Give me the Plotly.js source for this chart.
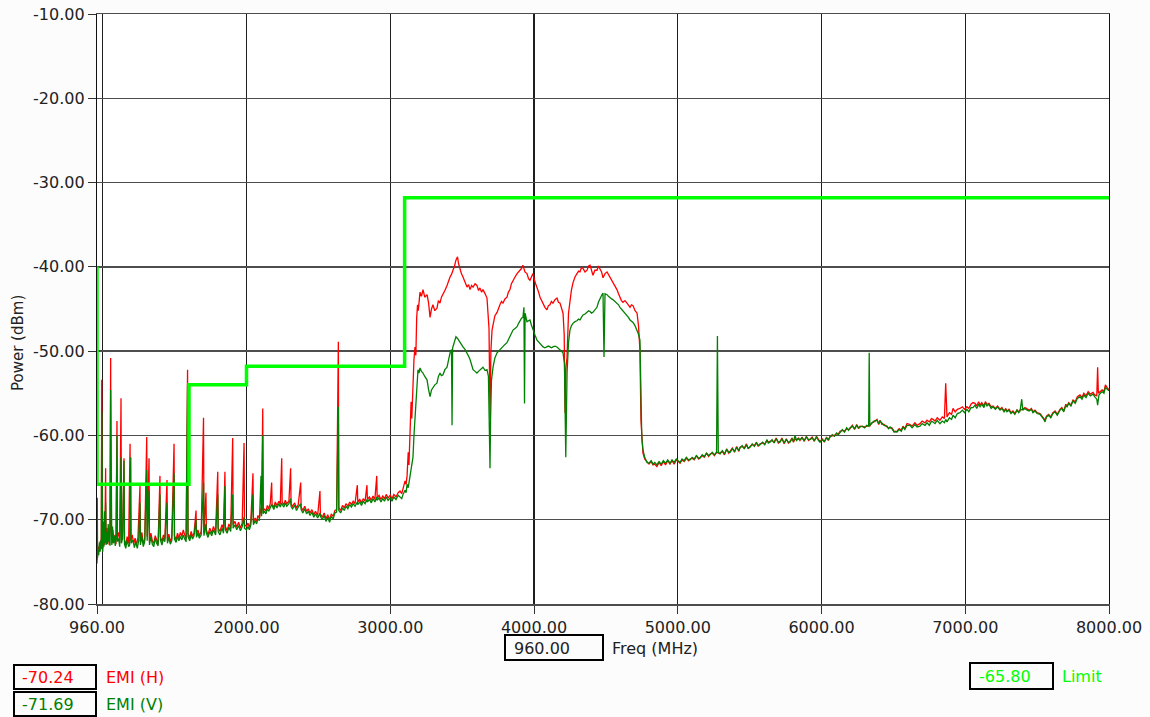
<!DOCTYPE html>
<html><head><meta charset="utf-8">
<script src="https://cdn.plot.ly/plotly-3.0.1.min.js"></script>
<style>html,body{margin:0;padding:0;background:#fcfcfc}#chart{width:1150px;height:717px}</style>
</head><body><div id="chart"></div>
<script>
// ---- tick labels / grid ----
const xTickVals = [960, 2000, 3000, 4000, 5000, 6000, 7000, 8000];
const xTickText = ['960.00', '2000.00', '3000.00', '4000.00', '5000.00', '6000.00', '7000.00', '8000.00'];
const xGridVals = [1000];
const yTickVals = [-80, -70, -60, -50, -40, -30, -20, -10];
const yTickText = ['-80.00', '-70.00', '-60.00', '-50.00', '-40.00', '-30.00', '-20.00', '-10.00'];

// ---- limit line (MHz, dBm) ----
const limitFreq = [960, 960, 1600, 1600, 2000, 2000, 3100, 3100, 8000];
const limitPow = [-40, -65.8, -65.8, -54, -54, -51.8, -51.8, -31.8, -31.8];

// ---- EMI (H) : [MHz, dBm] ----
const emiH_low = [[960,-74.8],[963,-72.5],[966,-74],[970,-73.2],[975,-73.8],[980,-72.6],[985,-73.5],[990,-72],[993,-53.4],[996,-72.5],[1000,-73.4],[1005,-71.5],[1010,-73],[1015,-72],[1020,-63.9],[1023,-72.8],[1030,-71],[1035,-72.6],[1040,-71.8],[1045,-73],[1050,-70.5],[1055,-50.8],[1058,-71.5],[1065,-72.8],[1070,-71.2],[1078,-72.5],[1085,-71.8],[1092,-72.9],[1099,-58.3],[1102,-72],[1110,-71.5],[1118,-72.7],[1127,-55.6],[1130,-72.2],[1138,-71.6],[1148,-62.7],[1151,-72.4],[1160,-73],[1170,-72],[1180,-72.8],[1190,-61],[1193,-72.5],[1205,-71.8],[1215,-72.9],[1225,-72.2],[1235,-73],[1245,-72.1],[1259,-66],[1262,-72.6],[1272,-71.5],[1282,-72.8],[1292,-72.3],[1306,-60.2],[1309,-72],[1322,-62.7],[1325,-72.6],[1335,-71.6],[1345,-72.5],[1355,-72.8],[1365,-71.9],[1375,-72.4],[1385,-72.9],[1398,-64.8],[1401,-72],[1412,-72.6],[1422,-71.8],[1432,-72.3],[1447,-65.3],[1450,-72.5],[1460,-71.7],[1470,-72.6],[1480,-72.2],[1496,-61],[1499,-71.9],[1510,-72.4],[1520,-71.6],[1530,-72.2],[1540,-71.5],[1550,-72],[1560,-71.2],[1570,-71.8],[1580,-72.3],[1590,-52.2],[1593,-71.6],[1605,-72.2],[1615,-71.4],[1625,-72],[1635,-71.6],[1649,-68.9],[1652,-71.8],[1662,-71.2],[1672,-71.9],[1685,-71.4],[1701,-57.9],[1704,-71.6],[1718,-66.8],[1721,-71.2],[1732,-71.8],[1745,-71],[1758,-71.6],[1770,-70.8],[1785,-71.5],[1800,-64.3],[1803,-71],[1815,-71.4],[1830,-70.6],[1840,-71.2],[1850,-64.3],[1853,-70.8],[1865,-71.3],[1878,-70.5],[1890,-71],[1904,-60.3],[1907,-70.6],[1920,-70.2],[1932,-70.9],[1945,-70.3],[1958,-71],[1970,-70.4],[1983,-60.9],[1986,-70.6],[2000,-70.8]];
const emiH_mid = [[2010,-70.4],[2020,-70.9],[2030,-70.2],[2045,-64.5],[2048,-70.3],[2060,-69.8],[2070,-70.2],[2080,-69.5],[2090,-69.8],[2101,-68.6],[2105,-69.2],[2113,-56.8],[2116,-69],[2125,-68.7],[2135,-69],[2145,-68.3],[2155,-68.7],[2165,-68.1],[2175,-65.6],[2178,-68.2],[2190,-68.5],[2200,-67.9],[2212,-68.3],[2225,-67.8],[2235,-68.2],[2245,-62.7],[2248,-67.9],[2260,-68.2],[2270,-67.7],[2280,-68.1],[2295,-67.8],[2307,-63.9],[2310,-68.1],[2320,-68.4],[2335,-68],[2348,-68.6],[2360,-68.2],[2377,-65.6],[2380,-68.5],[2392,-68.9],[2405,-68.4],[2418,-69],[2430,-68.7],[2442,-69.2],[2455,-68.8],[2468,-69.4],[2480,-69],[2495,-69.5],[2511,-66.6],[2514,-69.3],[2527,-69.7],[2540,-69.2],[2553,-69.9],[2565,-69.4],[2578,-70],[2590,-69.3],[2603,-69.6],[2615,-68.9],[2627,-68.8],[2639,-48.9],[2642,-68.6],[2655,-68.9],[2668,-68.3],[2680,-68.6],[2692,-68.1],[2705,-68.4],[2718,-67.9],[2730,-68.2],[2742,-67.8],[2755,-68.1],[2771,-65.9],[2774,-67.9],[2788,-67.6],[2800,-68],[2812,-67.5],[2825,-67.8],[2838,-65.9],[2841,-67.6],[2855,-67.3],[2868,-67.7],[2880,-67.2],[2893,-67.6],[2906,-64.8],[2909,-67.4],[2922,-67.1],[2935,-67.6],[2948,-67.2],[2960,-67.5],[2972,-67],[2985,-67.4],[3000,-67.1],[3012,-67.5],[3025,-67],[3040,-67.3],[3055,-66.8],[3068,-66.6],[3080,-66.9],[3089,-66.2],[3103,-65.4],[3110,-65.8],[3117,-64.8],[3125,-62],[3130,-63.5],[3137,-60],[3145,-56],[3150,-58],[3158,-53.4],[3165,-51],[3172,-49.5],[3178,-50.5],[3184,-46],[3190,-44.5],[3195,-45.2],[3200,-43.8],[3207,-43]];
const emiH_band = [[3217,-43.5],[3228,-42.7],[3240,-43.6],[3256,-43.3],[3266,-44.2],[3277,-46],[3287,-45],[3297,-44.5],[3310,-45.2],[3325,-44.9],[3335,-44],[3346,-44.3],[3356,-43.6],[3367,-43.3],[3380,-42.8],[3395,-42.2],[3405,-41.6],[3416,-41.2],[3426,-40.9],[3437,-40.4],[3447,-39.9],[3457,-39.2],[3468,-38.8],[3475,-39.6],[3485,-40.4],[3495,-40.8],[3506,-41.2],[3520,-41.8],[3534,-42.4],[3545,-42.1],[3555,-42.7],[3566,-42.2],[3576,-42.4],[3590,-42],[3603,-42.2],[3614,-42.8],[3624,-42.5],[3635,-43],[3645,-42.7],[3660,-43.2],[3673,-43.7],[3680,-45.5],[3687,-47.3],[3694,-58],[3700,-50],[3708,-47.5],[3715,-46.7],[3728,-45.8],[3743,-45.4],[3753,-44.8],[3763,-44.5],[3774,-44.1],[3784,-44.3],[3798,-43.8],[3812,-43.6],[3822,-43],[3833,-42.7],[3843,-42],[3854,-41.6],[3868,-41.2],[3882,-40.8],[3893,-40.6],[3903,-40.4],[3913,-40.2],[3923,-39.8],[3937,-40.6],[3951,-40.8],[3962,-41.4],[3972,-41.6],[3982,-41.1],[3993,-40.8],[4007,-41.8],[4021,-42.4],[4032,-43],[4042,-43.6],[4052,-44],[4063,-44.5],[4076,-44.8],[4090,-45.1],[4100,-44.6],[4111,-44.5],[4121,-44.1],[4132,-44.3],[4146,-43.9],[4160,-43.7],[4170,-44.2],[4181,-44.3],[4192,-44.8],[4202,-45.5],[4210,-48],[4216,-57.3],[4222,-52],[4230,-50.7],[4240,-45.5],[4250,-43.9],[4260,-42.8],[4271,-41.9],[4285,-41.2],[4299,-40.8],[4310,-40.5],[4320,-40.6],[4330,-40.1],[4341,-40.2],[4355,-40.6],[4369,-40.4],[4380,-39.9],[4390,-39.8],[4400,-40.5],[4410,-41],[4424,-40.4],[4438,-40.4],[4448,-39.9],[4459,-40.2],[4470,-40.6],[4480,-41.3],[4494,-40.8],[4508,-40.6],[4518,-40.9],[4529,-41.2],[4540,-41.5],[4550,-41.9],[4563,-42.3],[4577,-42.7],[4588,-43.2],[4598,-43.6],[4608,-44],[4619,-44.2],[4633,-44],[4647,-44.3],[4657,-44.6],[4668,-44.8],[4678,-44.5],[4689,-44.6],[4703,-45.2],[4717,-45.5],[4727,-47],[4737,-49.9],[4744,-58.2],[4750,-60.5],[4758,-62.1],[4770,-62.8],[4786,-63.2],[4800,-63.4],[4815,-63.1],[4828,-63.5]];
const emiH_tail = [[4840,-63.4],[4855,-63.7],[4870,-63.2],[4885,-63.6],[4900,-63.1],[4915,-63.5],[4930,-63],[4946,-63.4],[4960,-63],[4975,-63.4],[4990,-62.9],[5005,-63.2],[5016,-63.3],[5030,-62.9],[5045,-63.1],[5060,-62.7],[5075,-63],[5086,-62.8],[5100,-62.7],[5115,-62.9],[5130,-62.4],[5145,-62.8],[5155,-62.6],[5170,-62.4],[5185,-62.6],[5200,-62.1],[5215,-62.5],[5225,-62.2],[5240,-62.1],[5255,-62.4],[5270,-62],[5282,-62.1],[5294,-62.1],[5310,-61.9],[5325,-62.3],[5340,-61.6],[5355,-62.1],[5364,-61.9],[5380,-61.5],[5395,-62],[5410,-61.3],[5425,-61.9],[5433,-61.4],[5448,-61.3],[5463,-61.5],[5478,-61],[5490,-61.6],[5503,-61.3],[5518,-61.1],[5533,-61.2],[5548,-60.8],[5560,-61.3],[5572,-61],[5590,-60.9],[5605,-61],[5621,-60.6],[5630,-60.8],[5642,-60.7],[5656,-60.6],[5670,-60.8],[5685,-60.3],[5700,-60.9],[5712,-60.7],[5725,-60.3],[5740,-61],[5755,-60.4],[5770,-60.9],[5781,-60.7],[5795,-60.3],[5805,-60.8],[5816,-60.4],[5826,-60.5],[5840,-60.3],[5850,-60.6],[5865,-60.2],[5880,-60.7],[5895,-60.1],[5910,-60.6],[5920,-60.4],[5935,-60.2],[5950,-60.7],[5965,-60.1],[5980,-60.5],[5990,-60.7],[6005,-60.4],[6020,-60.8],[6035,-60.2],[6048,-60.6],[6059,-60.1],[6075,-60],[6090,-60],[6105,-59.8],[6118,-59.8],[6129,-59.5],[6145,-59.4],[6160,-59.5],[6175,-59.2],[6188,-59.3],[6198,-59.2],[6215,-58.8],[6230,-59.3],[6245,-58.7],[6258,-59.2],[6268,-58.9],[6285,-59],[6300,-59],[6315,-58.9],[6328,-58.8],[6336,-58.9],[6350,-58.5],[6365,-58.4],[6386,-58.1],[6398,-58.7],[6407,-58.2],[6420,-58.7],[6435,-58.7],[6456,-59],[6466,-59.1],[6477,-59.1],[6490,-59.1],[6505,-59.5],[6515,-59.6],[6525,-59.5],[6540,-59.2],[6555,-59.4],[6567,-58.9],[6580,-59.2],[6595,-58.6],[6616,-58.7],[6630,-58.9],[6650,-58.5],[6665,-58.8],[6685,-58.6],[6700,-58.3],[6720,-58.5],[6734,-58.2],[6750,-58.4],[6765,-58],[6776,-58.1],[6790,-58.3],[6805,-57.9],[6824,-58.2],[6840,-57.8],[6855,-58],[6864,-53.8],[6868,-57.8],[6873,-57.8],[6890,-57.3],[6905,-57.5],[6915,-56.8],[6930,-57.2],[6945,-56.9],[6963,-56.8],[6980,-56.6],[6995,-56.9],[7012,-56.6],[7025,-56.8],[7040,-56.3],[7054,-56.1],[7068,-56.2],[7080,-56.5],[7093,-56],[7103,-56.4],[7115,-56.1],[7130,-56.5],[7140,-56],[7151,-56.3],[7165,-56.2],[7180,-56.6],[7193,-56.5],[7210,-56.8],[7225,-56.5],[7242,-56.9],[7255,-56.7],[7270,-57.1],[7282,-56.8],[7290,-57.1],[7305,-56.9],[7318,-57.3],[7332,-57.1],[7345,-57.4],[7360,-57],[7372,-57.2],[7381,-57],[7400,-56.9],[7415,-56.7],[7430,-56.9],[7445,-57],[7460,-56.8],[7471,-57.2],[7485,-57],[7500,-57.3],[7520,-57.4],[7535,-57.7],[7547,-58],[7555,-58.2],[7565,-57.7],[7580,-57.5],[7595,-57.8],[7610,-57.3],[7625,-57.1],[7640,-57.5],[7659,-56.9],[7672,-56.7],[7685,-57.1],[7700,-56.3],[7708,-56.5],[7720,-56.1],[7735,-56.4],[7750,-55.8],[7765,-56],[7780,-55.4],[7798,-55.2],[7812,-55.5],[7825,-55],[7840,-55.3],[7855,-54.8],[7870,-55.1],[7889,-54.9],[7900,-55.2],[7915,-55.3],[7921,-51.9],[7926,-55],[7940,-54.8],[7952,-54.6],[7965,-54.8],[7975,-54],[7986,-54.3],[8000,-54.6]];

// ---- EMI (V) : [MHz, dBm] ----
const emiV_low = [[960,-75.2],[962,-67.4],[964,-74.5],[968,-73.6],[972,-74.2],[977,-72.8],[982,-73.8],[987,-72.4],[990,-73.5],[993,-57.2],[996,-73],[1000,-73.8],[1004,-70.2],[1008,-73.2],[1012,-69],[1016,-72.8],[1020,-68],[1023,-73],[1028,-71.5],[1033,-72.9],[1038,-70.5],[1042,-72.6],[1047,-71.8],[1051,-73.1],[1055,-54.6],[1058,-72],[1063,-73],[1068,-70.8],[1074,-72.8],[1080,-71.9],[1087,-73.1],[1093,-72.2],[1099,-60],[1102,-72.6],[1110,-72.2],[1118,-73.2],[1127,-62.6],[1130,-72.8],[1138,-72.2],[1148,-63],[1151,-72.9],[1160,-73.4],[1170,-72.4],[1180,-73.2],[1187,-73],[1195,-62.6],[1198,-72.8],[1210,-72.4],[1220,-73.3],[1230,-72.6],[1240,-73.4],[1250,-72.5],[1259,-68],[1262,-73],[1272,-72],[1282,-73.2],[1292,-72.6],[1306,-64.1],[1309,-72.5],[1322,-66.5],[1325,-73],[1335,-72],[1345,-72.9],[1355,-73.2],[1365,-72.2],[1375,-72.8],[1385,-73.1],[1398,-67],[1401,-72.4],[1412,-73],[1422,-72.2],[1432,-72.6],[1447,-68],[1450,-72.8],[1460,-72.1],[1470,-72.9],[1480,-72.5],[1496,-64.5],[1499,-72.3],[1510,-72.7],[1520,-72],[1530,-72.5],[1540,-72],[1550,-72.4],[1560,-71.8],[1570,-72.3],[1580,-72.6],[1590,-53.9],[1593,-72],[1605,-72.5],[1615,-71.8],[1625,-72.3],[1635,-71.9],[1649,-70],[1652,-72.1],[1662,-71.6],[1672,-72.2],[1685,-71.8],[1701,-65.6],[1704,-71.9],[1718,-70.5],[1721,-71.6],[1732,-72.1],[1745,-71.4],[1758,-71.9],[1770,-71.2],[1785,-71.8],[1800,-67],[1803,-71.4],[1815,-71.8],[1830,-71],[1840,-71.6],[1850,-66],[1853,-71.2],[1865,-71.6],[1878,-70.9],[1890,-71.4],[1904,-67],[1907,-71],[1920,-70.6],[1932,-71.2],[1945,-70.7],[1958,-71.3],[1970,-70.8],[1983,-69.7],[1986,-71],[2000,-71.2]];
const emiV_mid = [[2010,-70.8],[2020,-71.2],[2030,-70.6],[2045,-67],[2048,-70.6],[2060,-70.1],[2070,-70.5],[2080,-69.9],[2090,-70.1],[2101,-64.8],[2105,-69.6],[2113,-60],[2116,-69.3],[2125,-69],[2135,-69.3],[2145,-68.7],[2155,-69],[2165,-68.5],[2175,-68.2],[2190,-68.8],[2200,-68.2],[2212,-68.6],[2225,-68.1],[2235,-68.5],[2245,-68],[2248,-68.2],[2260,-68.5],[2270,-68],[2280,-68.4],[2295,-68.1],[2307,-67.5],[2310,-68.4],[2320,-68.7],[2335,-68.3],[2348,-68.9],[2360,-68.5],[2377,-68.1],[2380,-68.8],[2392,-69.2],[2405,-68.7],[2418,-69.3],[2430,-69],[2442,-69.5],[2455,-69.1],[2468,-69.7],[2480,-69.3],[2495,-69.8],[2511,-69.2],[2514,-69.6],[2527,-70],[2540,-69.5],[2553,-70.2],[2565,-69.7],[2578,-70.3],[2590,-69.6],[2603,-69.9],[2615,-69.2],[2627,-69.1],[2639,-56.6],[2642,-68.9],[2655,-69.2],[2668,-68.6],[2680,-68.9],[2692,-68.4],[2705,-68.7],[2718,-68.2],[2730,-68.5],[2742,-68.1],[2755,-68.4],[2771,-67.9],[2774,-68.2],[2788,-67.9],[2800,-68.3],[2812,-67.8],[2825,-68.1],[2838,-67.6],[2841,-67.9],[2855,-67.6],[2868,-68],[2880,-67.5],[2893,-67.9],[2906,-67.3],[2909,-67.7],[2922,-67.4],[2935,-67.9],[2948,-67.5],[2960,-67.8],[2972,-67.3],[2985,-67.7],[3000,-67.4],[3012,-67.8],[3025,-67.3],[3040,-67.6],[3055,-67.1],[3068,-67.3],[3080,-67.5],[3089,-67],[3103,-66.5],[3110,-66.8],[3117,-65.8],[3125,-66.2],[3137,-64.9],[3145,-63.8],[3158,-62.6],[3165,-60],[3172,-58],[3178,-56],[3184,-53.4],[3193,-52.2],[3200,-52.6],[3207,-52]];
const emiV_band = [[3217,-52.4],[3228,-52.6],[3240,-53],[3256,-53.4],[3266,-54.5],[3277,-55.4],[3287,-54.6],[3297,-54.3],[3310,-54],[3325,-53.8],[3335,-53],[3346,-52.6],[3356,-52.9],[3367,-52.8],[3380,-52.2],[3395,-51.9],[3405,-51],[3416,-50.2],[3426,-49.8],[3430,-58.8],[3434,-49.6],[3447,-48.8],[3457,-48.3],[3468,-48.5],[3475,-48.7],[3485,-49],[3495,-49.3],[3506,-49.5],[3520,-49.8],[3534,-50.2],[3545,-50.6],[3555,-51],[3566,-51.6],[3576,-52.2],[3590,-52.4],[3603,-52.6],[3614,-52.4],[3624,-52.2],[3635,-52],[3645,-51.9],[3660,-52.3],[3673,-52.2],[3683,-53],[3690,-60],[3694,-63.9],[3698,-58],[3704,-53.5],[3715,-51.9],[3728,-50.8],[3743,-50.2],[3753,-50],[3763,-49.9],[3774,-49.6],[3784,-49.5],[3798,-49.2],[3812,-49],[3822,-48.6],[3833,-48.3],[3843,-47.9],[3854,-47.5],[3868,-47.3],[3882,-47.1],[3893,-46.7],[3903,-46.3],[3913,-46.1],[3923,-46],[3930,-44.8],[3934,-56.2],[3938,-45.5],[3951,-46.5],[3962,-46.4],[3972,-46.3],[3982,-46.9],[3993,-47.5],[4007,-48.1],[4021,-48.7],[4032,-48.9],[4042,-49],[4052,-49.3],[4063,-49.5],[4076,-49.6],[4090,-49.5],[4100,-49.4],[4111,-49.5],[4121,-49.6],[4132,-49.5],[4146,-49.4],[4160,-49.5],[4170,-49.7],[4181,-49.9],[4192,-50.1],[4202,-50.2],[4212,-51.5],[4221,-62.6],[4226,-57],[4230,-52.6],[4240,-49],[4250,-47.5],[4260,-47],[4271,-46.7],[4285,-46.5],[4299,-46.4],[4310,-46.2],[4320,-46.3],[4330,-46],[4341,-45.7],[4355,-45.6],[4369,-45.4],[4380,-45.2],[4390,-45.3],[4400,-45.5],[4410,-45.4],[4424,-45.1],[4438,-44.8],[4448,-44.2],[4459,-43.7],[4470,-43.4],[4480,-43.1],[4487,-50.7],[4494,-43.2],[4508,-43.3],[4518,-43.5],[4529,-43.7],[4540,-43.8],[4550,-43.9],[4563,-44.1],[4577,-44.3],[4588,-44.5],[4598,-44.8],[4608,-45],[4619,-45.2],[4633,-45.4],[4647,-45.7],[4657,-46],[4668,-46.3],[4678,-46.4],[4689,-46.6],[4703,-47],[4717,-47.5],[4727,-48],[4737,-48.7],[4744,-58],[4750,-60.3],[4758,-61.7],[4770,-62.6],[4786,-63.2],[4800,-63.3],[4815,-63],[4828,-63.4]];
const emiV_tail = [[4840,-63.2],[4855,-63.5],[4870,-63.1],[4885,-63.4],[4900,-63],[4915,-63.3],[4930,-62.9],[4946,-63.3],[4960,-62.9],[4975,-63.2],[4990,-62.8],[5005,-63.1],[5016,-63.2],[5030,-62.8],[5045,-63],[5060,-62.6],[5075,-62.9],[5086,-62.9],[5100,-62.6],[5115,-62.8],[5130,-62.4],[5145,-62.7],[5155,-62.7],[5170,-62.3],[5185,-62.5],[5200,-62.1],[5215,-62.4],[5225,-62.3],[5240,-62],[5255,-62.3],[5270,-62],[5276,-48.2],[5282,-62],[5294,-62.2],[5310,-61.8],[5325,-62.2],[5340,-61.7],[5355,-62],[5364,-62],[5380,-61.6],[5395,-61.9],[5410,-61.4],[5425,-61.8],[5433,-61.5],[5448,-61.2],[5463,-61.6],[5478,-61.1],[5490,-61.5],[5503,-61.4],[5518,-61],[5533,-61.3],[5548,-60.9],[5560,-61.2],[5572,-61.1],[5590,-60.8],[5605,-61.1],[5621,-60.5],[5630,-60.9],[5642,-60.8],[5656,-60.5],[5670,-60.9],[5685,-60.4],[5700,-60.8],[5712,-60.8],[5725,-60.4],[5740,-60.9],[5755,-60.5],[5770,-60.8],[5781,-60.8],[5795,-60.4],[5805,-60.7],[5816,-60],[5826,-60.6],[5840,-60.4],[5850,-60.5],[5865,-60.3],[5880,-60.6],[5895,-60.2],[5910,-60.5],[5920,-60.5],[5935,-60.3],[5950,-60.6],[5965,-60.2],[5980,-60.6],[5990,-60.8],[6005,-60.5],[6020,-60.7],[6035,-60.3],[6048,-60.5],[6059,-60.2],[6075,-59.9],[6090,-60.1],[6105,-59.7],[6118,-59.9],[6129,-59.6],[6145,-59.3],[6160,-59.6],[6175,-59.1],[6188,-59.4],[6198,-59.1],[6215,-58.9],[6230,-59.2],[6245,-58.8],[6258,-59.1],[6268,-59],[6285,-58.9],[6300,-59.1],[6315,-58.8],[6328,-58.9],[6332,-50.2],[6336,-58.8],[6350,-58.6],[6365,-58.3],[6386,-58.2],[6398,-58.6],[6407,-58.3],[6420,-58.6],[6435,-58.8],[6456,-58.9],[6466,-59.2],[6477,-59],[6490,-59.2],[6505,-59.6],[6515,-59.5],[6525,-59.6],[6540,-59.3],[6555,-59.5],[6567,-59],[6580,-59.3],[6595,-58.8],[6616,-58.8],[6630,-59.1],[6650,-58.7],[6665,-59],[6685,-58.9],[6700,-58.6],[6720,-58.8],[6734,-58.5],[6750,-58.8],[6765,-58.3],[6776,-58.4],[6790,-58.6],[6805,-58.2],[6824,-58.6],[6840,-58.3],[6855,-58.5],[6864,-58.1],[6873,-58.4],[6890,-57.9],[6905,-58.1],[6915,-57.6],[6930,-57.9],[6945,-57.4],[6963,-57.3],[6980,-57],[6995,-57.3],[7012,-56.9],[7025,-57.2],[7040,-56.7],[7054,-56.7],[7068,-56.4],[7080,-56.8],[7093,-56.3],[7103,-56.6],[7115,-56.3],[7130,-56.7],[7140,-56.1],[7151,-56.5],[7165,-56.3],[7180,-56.8],[7193,-56.6],[7210,-56.9],[7225,-56.6],[7242,-57],[7255,-56.8],[7270,-57.2],[7282,-56.9],[7290,-57.2],[7305,-57],[7318,-57.4],[7332,-57.2],[7345,-57.5],[7360,-57],[7372,-57.3],[7381,-57.1],[7393,-55.7],[7400,-57],[7415,-56.8],[7430,-57],[7445,-57.1],[7460,-56.9],[7471,-57.3],[7485,-57.1],[7500,-57.4],[7520,-57.5],[7535,-57.8],[7547,-58.1],[7555,-58.4],[7565,-57.8],[7580,-57.6],[7595,-57.9],[7610,-57.4],[7625,-57.2],[7640,-57.6],[7659,-57],[7672,-56.8],[7685,-57.2],[7700,-56.4],[7708,-56.6],[7720,-56.2],[7735,-56.5],[7750,-55.9],[7765,-56.2],[7780,-55.6],[7798,-55.4],[7812,-55.7],[7825,-55.2],[7840,-55.5],[7855,-55],[7870,-55.3],[7889,-55.1],[7900,-55.4],[7915,-55.7],[7921,-56.4],[7930,-55.2],[7940,-55],[7952,-54.8],[7965,-55],[7975,-54.3],[7986,-54.5],[8000,-54.7]];

// ---- readouts ----
const cursorFreq = '960.00';
const readH = '-70.24', readV = '-71.69', readLimit = '-65.80';

const emiH = [].concat(emiH_low, emiH_mid, emiH_band, emiH_tail);
const emiV = [].concat(emiV_low, emiV_mid, emiV_band, emiV_tail);

const FONT = 'DejaVu Sans';
const RED = '#ff0000', GREEN = '#008000', LIME = '#00ff00';

// pixel -> paper helpers for the readout boxes
const PL = 97, PW = 1012, PB = 604, PH = 590;
const fx = p => (p - PL) / PW;
const fy = p => (PB - p) / PH;

const traces = [
  {x: emiH.map(p => p[0]), y: emiH.map(p => p[1]), type: 'scatter', mode: 'lines',
   line: {color: RED, width: 1.3}, name: 'EMI (H)'},
  {x: emiV.map(p => p[0]), y: emiV.map(p => p[1]), type: 'scatter', mode: 'lines',
   line: {color: GREEN, width: 1.3}, name: 'EMI (V)'},
  {x: limitFreq, y: limitPow, type: 'scatter', mode: 'lines',
   line: {color: LIME, width: 3.5}, name: 'Limit'}
];

function txt(text, px, py, color, opts) {
  return Object.assign({text: text, xref: 'paper', yref: 'paper', x: fx(px), y: fy(py),
    xanchor: 'left', yanchor: 'middle', showarrow: false,
    font: {family: FONT, size: 16, color: color}}, opts || {});
}
function box(x0, x1, y0, y1) {
  return {type: 'rect', xref: 'paper', yref: 'paper', x0: fx(x0), x1: fx(x1), y0: fy(y1), y1: fy(y0),
    line: {color: '#000', width: 2}, fillcolor: 'rgba(0,0,0,0)'};
}

const layout = {
  width: 1150, height: 717,
  margin: {l: 97, r: 41, t: 14, b: 113},
  paper_bgcolor: '#fcfcfc', plot_bgcolor: '#ffffff',
  showlegend: false, hovermode: false,
  xaxis: {
    range: [960, 8000], tickmode: 'array', tickvals: xTickVals, ticktext: xTickText,
    showgrid: true, gridcolor: '#1e1e1e', gridwidth: 1.2,
    minor: {tickmode: 'array', tickvals: xGridVals, showgrid: true, gridcolor: '#1e1e1e', gridwidth: 1.2, ticks: ''},
    ticks: 'outside', ticklen: 8, tickcolor: '#333', tickwidth: 1,
    showline: true, linecolor: '#4d4d4d', linewidth: 1.5, mirror: true, zeroline: false,
    tickfont: {family: FONT, size: 16, color: '#222'}
  },
  yaxis: {
    range: [-80, -10], tickmode: 'array', tickvals: yTickVals, ticktext: yTickText,
    showgrid: true, gridcolor: '#4d4d4d', gridwidth: 1.5,
    ticks: 'outside', ticklen: 8, tickcolor: '#333', tickwidth: 1,
    showline: true, linecolor: '#111', linewidth: 1.2, mirror: true, zeroline: false,
    tickfont: {family: FONT, size: 16, color: '#222'}
  },
  shapes: [
    box(505, 603, 635, 660),
    box(14, 96, 665, 689),
    box(14, 96, 692, 716),
    box(970, 1053, 663, 689)
  ],
  annotations: [
    txt('Power (dBm)', 18, 343, '#222', {textangle: -90, xanchor: 'center', font: {family: FONT, size: 15, color: '#222'}}),
    txt(cursorFreq, 512, 648, '#222'),
    txt('Freq (MHz)', 610, 648, '#222'),
    txt(readH, 20, 677, RED),
    txt('EMI (H)', 104, 677, RED),
    txt(readV, 20, 704, GREEN),
    txt('EMI (V)', 104, 704, GREEN),
    txt(readLimit, 977, 676, LIME),
    txt('Limit', 1060, 676, LIME)
  ]
};

Plotly.newPlot('chart', traces, layout, {staticPlot: true, displayModeBar: false});
</script>
</body></html>
